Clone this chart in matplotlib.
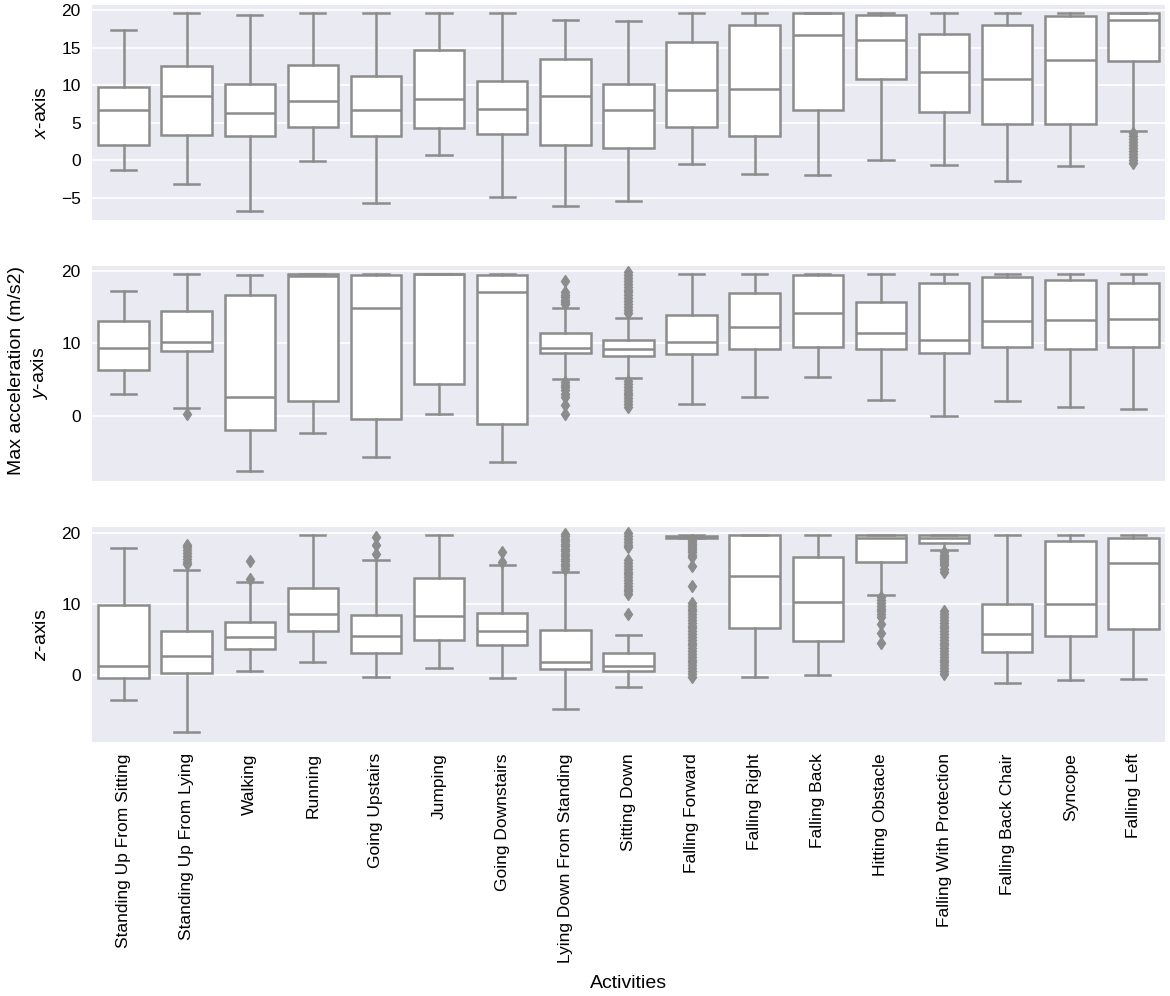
import numpy as np
import matplotlib.pyplot as plt

activities = ['Standing Up From Sitting', 'Standing Up From Lying', 'Walking', 'Running',
              'Going Upstairs', 'Jumping', 'Going Downstairs', 'Lying Down From Standing',
              'Sitting Down', 'Falling Forward', 'Falling Right', 'Falling Back',
              'Hitting Obstacle', 'Falling With Protection', 'Falling Back Chair',
              'Syncope', 'Falling Left']

# x-axis: whisker low, q1, median, q3, whisker high
x_lo  = [-1.3, -3.1, -6.7, -0.1, -5.7, 0.7, -4.9, -6.1, -5.4, -0.5, -1.8, -1.9, 0.0, -0.6, -2.7, -0.7, 3.9]
x_q1  = [2.1, 3.4, 3.2, 4.45, 3.2, 4.3, 3.5, 2.1, 1.7, 4.5, 3.3, 6.7, 10.8, 6.4, 4.85, 4.85, 13.2]
x_med = [6.75, 8.6, 6.3, 7.95, 6.7, 8.2, 6.8, 8.6, 6.7, 9.4, 9.5, 16.7, 16.0, 11.7, 10.8, 13.3, 18.7]
x_q3  = [9.7, 12.5, 10.2, 12.7, 11.2, 14.7, 10.6, 13.5, 10.2, 15.7, 18.0, 19.56, 19.3, 16.75, 17.95, 19.2, 19.56]
x_hi  = [17.3, 19.56, 19.4, 19.56, 19.56, 19.56, 19.56, 18.7, 18.5, 19.56, 19.56, 19.56, 19.56, 19.56, 19.56, 19.56, 19.56]
x_fl  = {16: [3.6, 3.2, 2.8, 2.4, 2.0, 1.6, 1.2, 0.8, 0.4, 0.0, -0.4]}

# y-axis
y_lo  = [3.0, 1.1, -7.6, -2.4, -5.75, 0.23, -6.4, 5.1, 5.2, 1.56, 2.6, 5.4, 2.2, 0.0, 2.0, 1.2, 1.0]
y_q1  = [6.3, 8.9, -2.0, 2.1, -0.5, 4.4, -1.1, 8.65, 8.3, 8.5, 9.15, 9.5, 9.25, 8.65, 9.5, 9.25, 9.5]
y_med = [9.4, 10.1, 2.6, 19.2, 14.85, 19.5, 17.1, 9.4, 9.25, 10.2, 12.2, 14.2, 11.4, 10.4, 13.0, 13.2, 13.3]
y_q3  = [13.0, 14.5, 16.7, 19.5, 19.4, 19.5, 19.4, 11.36, 10.4, 13.9, 16.9, 19.4, 15.7, 18.3, 19.1, 18.7, 18.3]
y_hi  = [17.2, 19.5, 19.4, 19.5, 19.5, 19.5, 19.5, 14.85, 13.5, 19.5, 19.5, 19.5, 19.5, 19.5, 19.5, 19.5, 19.5]
y_fl  = {1: [0.2],
         7: [18.6, 17.0, 16.6, 16.3, 16.0, 15.7, 15.4, 4.7, 4.3, 3.9, 3.5, 3.0, 2.6, 1.5, 0.3],
         8: [14.2, 14.6, 15.0, 15.4, 15.8, 16.2, 16.6, 17.0, 17.4, 17.8, 18.2, 18.6, 19.0, 19.4, 19.8,
             4.8, 4.4, 4.0, 3.6, 3.2, 2.8, 2.4, 2.0, 1.6, 1.2]}

# z-axis
z_lo  = [-3.55, -8.0, 0.65, 1.8, -0.2, 1.0, -0.37, -4.8, -1.6, 19.3, -0.23, 0.0, 11.3, 17.6, -1.07, -0.6, -0.5]
z_q1  = [-0.37, 0.28, 3.7, 6.3, 3.2, 4.9, 4.3, 0.84, 0.6, 19.35, 6.7, 4.8, 16.0, 18.7, 3.3, 5.5, 6.5]
z_med = [1.3, 2.7, 5.4, 8.7, 5.5, 8.3, 6.2, 1.8, 1.35, 19.5, 14.0, 10.3, 19.4, 19.3, 5.85, 10.1, 15.8]
z_q3  = [9.9, 6.2, 7.5, 12.3, 8.55, 13.7, 8.8, 6.4, 3.1, 19.65, 19.7, 16.7, 19.7, 19.7, 10.1, 18.9, 19.4]
z_hi  = [17.9, 14.8, 13.2, 19.7, 16.3, 19.7, 15.6, 14.6, 5.65, 19.7, 19.7, 19.7, 19.7, 19.7, 19.7, 19.7, 19.7]
z_fl  = {1: [18.4, 18.0, 17.6, 17.2, 16.8, 16.4, 16.0, 15.7],
         2: [16.1, 13.5],
         4: [19.5, 18.4, 17.1],
         6: [17.4, 16.0],
         7: [19.9, 19.55, 19.2, 18.85, 18.5, 18.15, 17.8, 17.45, 17.1, 16.75, 16.4, 16.05, 15.7, 15.35, 15.0],
         8: [20.0, 19.6, 19.2, 18.8, 18.4, 18.0, 16.2, 15.8, 15.4, 15.0, 14.6, 14.2, 13.8, 13.4, 13.0,
             12.6, 12.2, 11.8, 11.4, 8.7],
         9: [19.1, 18.8, 18.5, 18.2, 17.9, 17.6, 17.3, 17.0, 16.7, 15.4, 12.6, 10.2, 9.8, 9.4, 9.0,
             8.6, 8.2, 7.8, 7.4, 7.0, 6.6, 6.2, 5.8, 5.4, 5.0, 4.6, 4.2, 3.8, 3.4, 3.0, 2.6, 2.2,
             1.8, 1.4, 1.0, 0.6, 0.2, -0.2],
         12: [11.0, 10.6, 10.2, 9.8, 9.4, 9.0, 8.6, 8.2, 7.2, 5.9, 4.6],
         13: [17.3, 17.0, 16.7, 16.4, 16.1, 15.8, 15.5, 15.0, 14.5, 9.0, 8.6, 8.2, 7.8, 7.4, 7.0,
              6.6, 6.2, 5.8, 5.4, 5.0, 4.6, 4.2, 3.8, 3.4, 3.0, 2.6, 2.2, 1.8, 1.4, 1.0, 0.6, 0.2]}

panels = [('$x$-axis', x_lo, x_q1, x_med, x_q3, x_hi, x_fl, (-7.95, 20.67), [-5, 0, 5, 10, 15, 20]),
          ('$y$-axis', y_lo, y_q1, y_med, y_q3, y_hi, y_fl, (-9.0, 20.65), [0, 10, 20]),
          ('$z$-axis', z_lo, z_q1, z_med, z_q3, z_hi, z_fl, (-9.4, 20.9), [0, 10, 20])]

plt.rcParams['font.family'] = ['Liberation Sans', 'DejaVu Sans']
plt.rcParams['mathtext.fontset'] = 'custom'
plt.rcParams['mathtext.it'] = 'Liberation Sans:italic'
plt.rcParams['mathtext.rm'] = 'Liberation Sans'

gray = '#8c8c8c'
lw = 1.8
fig, axes = plt.subplots(3, 1, figsize=(11.7, 9.96), dpi=100, sharex=True)
fig.subplots_adjust(left=0.0786, right=0.9957, top=0.995, bottom=0.255, hspace=0.213)

pos = np.arange(len(activities))
for ax, (lab, lo, q1, med, q3, hi, fl, ylim, yt) in zip(axes, panels):
    stats = []
    for i in range(len(activities)):
        stats.append(dict(whislo=lo[i], q1=q1[i], med=med[i], q3=q3[i], whishi=hi[i],
                          fliers=fl.get(i, [])))
    ax.set_facecolor('#EAEAF2')
    ax.grid(axis='y', color='white', linewidth=1.2)
    ax.set_axisbelow(True)
    for s in ax.spines.values():
        s.set_visible(False)
    ax.bxp(stats, positions=pos, widths=0.8, patch_artist=True,
           boxprops=dict(facecolor='white', edgecolor=gray, linewidth=lw),
           whiskerprops=dict(color=gray, linewidth=lw),
           capprops=dict(color=gray, linewidth=lw),
           medianprops=dict(color=gray, linewidth=lw),
           flierprops=dict(marker='d', markerfacecolor=gray, markeredgecolor=gray,
                           markersize=6, linestyle='none'))
    ax.set_ylim(*ylim)
    ax.set_yticks(yt)
    ax.set_ylabel(lab, fontsize=14, labelpad=8)
    ax.tick_params(axis='both', length=0, labelsize=12.5, pad=8)
    ax.set_xlim(-0.5, len(activities) - 0.5)

axes[-1].set_xticks(pos)
axes[-1].set_xticklabels(activities, rotation=90)
axes[-1].set_xlabel('Activities', fontsize=14, labelpad=9)
fig.text(0.014, 0.628, 'Max acceleration (m/s2)', rotation=90, va='center', ha='center', fontsize=14)

plt.savefig('out.png', dpi=100)
